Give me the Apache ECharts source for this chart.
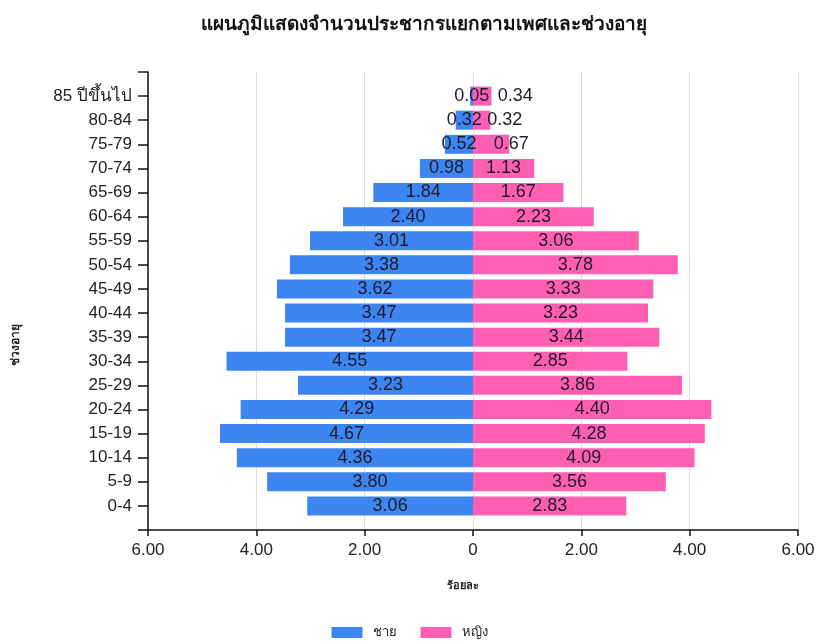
<!DOCTYPE html>
<html>
<head>
<meta charset="utf-8">
<script src="https://cdn.jsdelivr.net/npm/echarts@6/dist/echarts.min.js"></script>
<style>
  html, body { margin: 0; padding: 0; background: #fff; }
  #chart { width: 819px; height: 644px; }
</style>
</head>
<body>
<div id="chart"></div>
<script>
// Age groups, youngest first (bottom of the pyramid)
const ageGroups = ['0-4', '5-9', '10-14', '15-19', '20-24', '25-29', '30-34', '35-39',
  '40-44', '45-49', '50-54', '55-59', '60-64', '65-69', '70-74', '75-79', '80-84', '85 ปีขึ้นไป'];
// Percent of population by sex
const male = [3.06, 3.80, 4.36, 4.67, 4.29, 3.23, 4.55, 3.47, 3.47, 3.62, 3.38, 3.01, 2.40, 1.84, 0.98, 0.52, 0.32, 0.05];
const female = [2.83, 3.56, 4.09, 4.28, 4.40, 3.86, 2.85, 3.44, 3.23, 3.33, 3.78, 3.06, 2.23, 1.67, 1.13, 0.67, 0.32, 0.34];
const xTicks = [-6, -4, -2, 0, 2, 4, 6];

const FONT = "'Liberation Sans', 'Noto Sans', 'DejaVu Sans', sans-serif";
const BLUE = '#3d85f0';
const PINK = '#ff5fb3';

// Female labels on the narrowest bars are pushed right so they clear the male labels (px)
const femaleLabelShift = { '75-79': 20, '80-84': 23, '85 ปีขึ้นไป': 33 };

// Blank slots above and below keep the axis running past the outer age groups
const axisCats = [''].concat(ageGroups, ['']);
const maleVals = [null].concat(male.map(v => -v), [null]);
const femaleVals = [null].concat(female, [null]);

const fmt = v => Math.abs(v).toFixed(2);

const barLabel = {
  show: true, position: 'inside', fontFamily: FONT, fontSize: 18, color: '#1f1b2b',
  formatter: p => fmt(p.value)
};

const chart = echarts.init(document.getElementById('chart'), null, { renderer: 'canvas' });
chart.setOption({
  animation: false,
  backgroundColor: '#fff',
  title: {
    text: 'แผนภูมิแสดงจำนวนประชากรแยกตามเพศและช่วงอายุ',
    left: 196,
    top: 10,
    textStyle: { fontFamily: FONT, fontSize: 19, fontWeight: 'bold', color: '#111' }
  },
  legend: {
    bottom: 0,
    left: 'center',
    itemWidth: 31,
    itemHeight: 11,
    itemGap: 24,
    icon: 'rect',
    textStyle: { fontFamily: FONT, fontSize: 13, color: '#222', padding: [0, 0, 0, 5] },
    data: ['ชาย', 'หญิง']
  },
  graphic: [{
    type: 'text',
    left: 10,
    top: 324,
    rotation: Math.PI / 2,
    style: { text: 'ช่วงอายุ', font: "bold 12px 'Liberation Sans', 'Noto Sans', sans-serif", fill: '#222' }
  }],
  grid: { left: 148, right: 21, top: 72, bottom: 114 },
  xAxis: {
    type: 'value',
    min: xTicks[0],
    max: xTicks[xTicks.length - 1],
    interval: 2,
    name: 'ร้อยละ',
    nameLocation: 'middle',
    nameGap: 50,
    nameTextStyle: { fontFamily: FONT, fontSize: 11, fontWeight: 'bold', color: '#222', padding: [0, 20, 0, 0] },
    axisLine: { show: true, lineStyle: { color: '#111', width: 1.5 } },
    axisTick: { show: true, length: 6, lineStyle: { color: '#111', width: 1.5 } },
    axisLabel: {
      fontFamily: FONT, fontSize: 17, color: '#222', margin: 12,
      formatter: v => (v === 0 ? '0' : fmt(v))
    },
    splitLine: { show: true, lineStyle: { color: '#dcdcdc', width: 1 } }
  },
  yAxis: {
    type: 'category',
    data: axisCats,
    boundaryGap: false,
    axisLine: { show: true, onZero: false, lineStyle: { color: '#111', width: 1.5 } },
    axisTick: { show: true, length: 10, lineStyle: { color: '#111', width: 1.5 } },
    axisLabel: { fontFamily: FONT, fontSize: 17, color: '#222', margin: 16 },
    splitLine: { show: false }
  },
  series: [
    {
      name: 'ชาย',
      type: 'bar',
      data: maleVals,
      barWidth: 19,
      barGap: '-100%',
      itemStyle: { color: BLUE },
      label: barLabel
    },
    {
      name: 'หญิง',
      type: 'bar',
      data: femaleVals,
      barWidth: 19,
      barGap: '-100%',
      itemStyle: { color: PINK },
      label: barLabel,
      labelLayout: p => ({ dx: femaleLabelShift[axisCats[p.dataIndex]] || 0 })
    }
  ]
});
</script>
</body>
</html>
